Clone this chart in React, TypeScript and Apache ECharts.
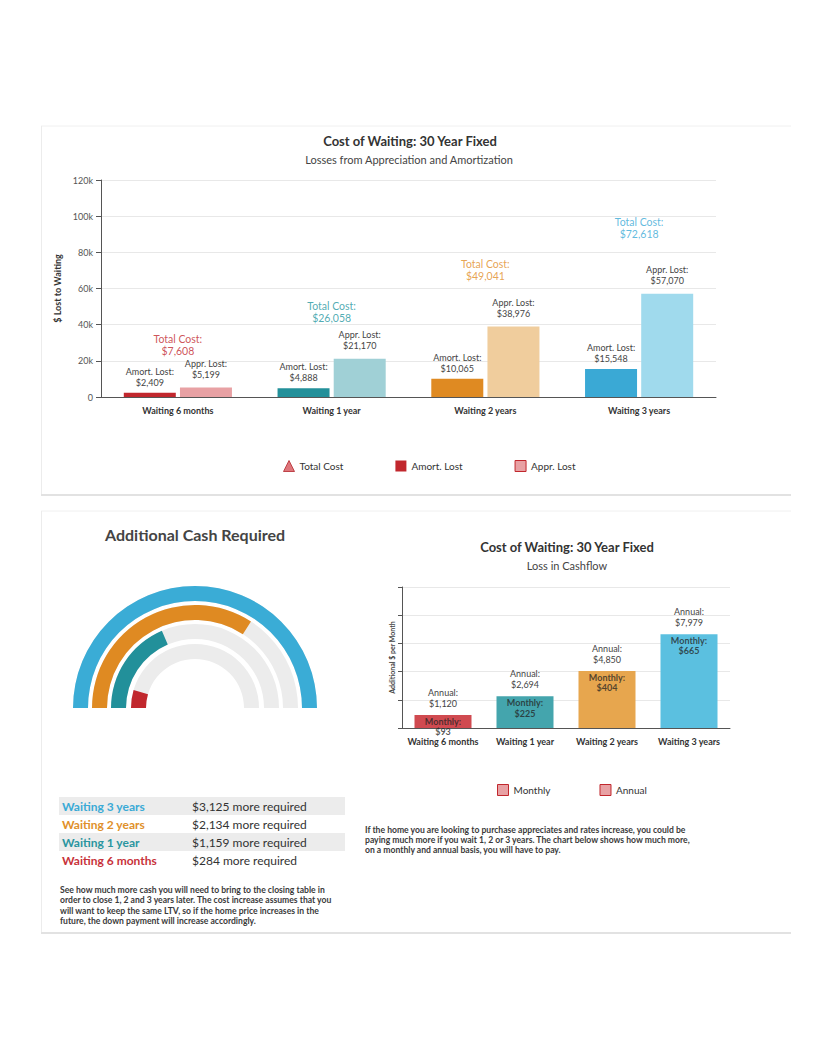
import React, { useEffect, useRef } from "react";
import * as echarts from "echarts";

// ---------- data ----------
const categories = ["Waiting 6 months", "Waiting 1 year", "Waiting 2 years", "Waiting 3 years"];
const amortLost = [2409, 4888, 10065, 15548];
const apprLost = [5199, 21170, 38976, 57070];
const totalCost = [7608, 26058, 49041, 72618];
const topAxisMax = 120000;
const topAxisStep = 20000;

const monthlyLoss = [93, 225, 404, 665];
const annualLoss = [1120, 2694, 4850, 7979];
const bottomAxisMax = 1000;
const bottomAxisStep = 200;

const cashLabels = ["Waiting 3 years", "Waiting 2 years", "Waiting 1 year", "Waiting 6 months"];
const cashRequired = [3125, 2134, 1159, 284];

const cashText =
  "See how much more cash you will need to bring to the closing table in\norder to close 1, 2 and 3 years later. The cost increase assumes that you\nwill want to keep the same LTV, so if the home price increases in the\nfuture, the down payment will increase accordingly.";
const flowText =
  "If the home you are looking to purchase appreciates and rates increase, you could be\npaying much more if you wait 1, 2 or 3 years. The chart below shows how much more,\non a monthly and annual basis, you will have to pay.";

// ---------- styles ----------
const FONT = "Lato, 'Noto Sans', sans-serif";
const darkColors = ["#c1272d", "#23909a", "#df8a22", "#3aa9d5"];
const lightColors = ["#e8a1a4", "#a0d0d6", "#f0cd9d", "#a0daed"];
const totalColors = ["#c1272d", "#2596a0", "#df8c26", "#38a9d6"];
const monthlyColors = ["#d04a50", "#44a5ad", "#e7a64e", "#5bc0e0"];
const cashColors = ["#3aacd6", "#df8a22", "#22909a", "#c1272d"];
const tableColors = ["#3aaad6", "#e0902a", "#2a959f", "#c8323a"];
const gaugeRadii = [122, 103, 84, 64];

const fmt = (v: number) => "$" + v.toLocaleString("en-US");

function buildOption() {
  const maxCash = Math.max(...cashRequired);

  const gauges = cashRequired.map((v, i) => ({
    type: "gauge",
    name: cashLabels[i],
    center: [195, 708],
    radius: gaugeRadii[i],
    startAngle: 180,
    endAngle: 0,
    min: 0,
    max: maxCash,
    silent: true,
    axisLine: { lineStyle: { width: 15, color: [[1, "#ececec"]] } },
    progress: { show: true, width: 15, itemStyle: { color: cashColors[i] } },
    pointer: { show: false },
    anchor: { show: false },
    axisTick: { show: false },
    splitLine: { show: false },
    axisLabel: { show: false },
    detail: { show: false },
    title: { show: false },
    data: [{ value: v, name: cashLabels[i] }],
  }));

  const tableGraphics: any[] = [];
  cashLabels.forEach((lab, i) => {
    const cy = 806 + i * 18;
    if (i % 2 === 0) {
      tableGraphics.push({
        type: "rect",
        shape: { x: 59, y: cy - 9, width: 286, height: 18 },
        style: { fill: "#ececec" },
        z: 1,
      });
    }
    tableGraphics.push({
      type: "text",
      x: 62,
      y: cy,
      z: 2,
      style: {
        text: lab,
        fill: tableColors[i],
        font: `bold 12px ${FONT}`,
        verticalAlign: "middle",
      },
    });
    tableGraphics.push({
      type: "text",
      x: 192,
      y: cy,
      z: 2,
      style: {
        text: `${fmt(cashRequired[i])} more required`,
        fill: "#333",
        font: `12px ${FONT}`,
        verticalAlign: "middle",
      },
    });
  });

  const cardLine = (x1: number, y1: number, x2: number, y2: number, color: string, w = 1) => ({
    type: "line",
    shape: { x1, y1, x2, y2 },
    style: { stroke: color, lineWidth: w },
    z: 0,
  });

  return {
    animation: false,
    backgroundColor: "#fff",
    textStyle: { fontFamily: FONT },
    graphic: [
      cardLine(41, 126, 791, 126, "#f0f0f0"),
      cardLine(41.5, 126, 41.5, 495, "#ececec"),
      cardLine(41, 495, 791, 495, "#e2e2e2", 2),
      cardLine(41, 511, 791, 511, "#f0f0f0"),
      cardLine(41.5, 511, 41.5, 933, "#ececec"),
      cardLine(41, 933, 791, 933, "#e2e2e2", 2),
      {
        type: "text",
        x: 410,
        y: 141,
        style: { text: "Cost of Waiting: 30 Year Fixed", fill: "#333", font: `bold 13px ${FONT}`, align: "center", verticalAlign: "middle" },
      },
      {
        type: "text",
        x: 409,
        y: 159,
        style: { text: "Losses from Appreciation and Amortization", fill: "#444", font: `11px ${FONT}`, align: "center", verticalAlign: "middle" },
      },
      {
        type: "text",
        x: 567,
        y: 547,
        style: { text: "Cost of Waiting: 30 Year Fixed", fill: "#333", font: `bold 13px ${FONT}`, align: "center", verticalAlign: "middle" },
      },
      {
        type: "text",
        x: 567,
        y: 565,
        style: { text: "Loss in Cashflow", fill: "#444", font: `11px ${FONT}`, align: "center", verticalAlign: "middle" },
      },
      {
        type: "text",
        x: 105,
        y: 534,
        style: { text: "Additional Cash Required", fill: "#444", font: `bold 16px ${FONT}`, verticalAlign: "middle" },
      },
      ...tableGraphics,
      {
        type: "text",
        x: 60,
        y: 885,
        style: { text: cashText, fill: "#3a3a3a", font: `bold 8.6px ${FONT}`, lineHeight: 10.2, verticalAlign: "top" },
      },
      {
        type: "text",
        x: 365,
        y: 825,
        style: { text: flowText, fill: "#3a3a3a", font: `bold 8.6px ${FONT}`, lineHeight: 9.8, verticalAlign: "top" },
      },
    ],
    legend: [
      {
        left: 278,
        top: 455,
        itemWidth: 11,
        itemHeight: 11,
        itemGap: 52,
        textStyle: { fontSize: 10, color: "#333", fontFamily: FONT },
        data: [
          { name: "Total Cost", icon: "triangle", itemStyle: { color: "#d6545a", borderColor: "#b3262c", borderWidth: 1 } },
          { name: "Amort. Lost", icon: "rect", itemStyle: { color: "#c1272d" } },
          { name: "Appr. Lost", icon: "rect", itemStyle: { color: "#e8a1a4", borderColor: "#c1272d", borderWidth: 1 } },
        ],
      },
      {
        left: 492,
        top: 779,
        itemWidth: 11,
        itemHeight: 11,
        itemGap: 49,
        textStyle: { fontSize: 10, color: "#333", fontFamily: FONT },
        data: [
          { name: "Monthly", icon: "rect", itemStyle: { color: "#e8a1a4", borderColor: "#c1272d", borderWidth: 1 } },
          { name: "Annual", icon: "rect", itemStyle: { color: "#e8a1a4", borderColor: "#c1272d", borderWidth: 1 } },
        ],
      },
    ],
    grid: [
      { left: 101, right: 100, top: 180, bottom: 659 },
      { left: 402, right: 86, top: 587, bottom: 328 },
    ],
    xAxis: [0, 1].map((g) => ({
      gridIndex: g,
      type: "category",
      data: categories,
      axisLine: { lineStyle: { color: "#555" } },
      axisTick: { alignWithLabel: true, length: 4, lineStyle: { color: "#555" } },
      axisLabel: { fontSize: 9, fontWeight: "bold", color: "#333", margin: 9, fontFamily: FONT, interval: 0 },
    })),
    yAxis: [
      {
        gridIndex: 0,
        type: "value",
        min: 0,
        max: topAxisMax,
        interval: topAxisStep,
        axisLine: { show: true, lineStyle: { color: "#555" } },
        axisTick: { show: true, length: 5, lineStyle: { color: "#555" } },
        axisLabel: {
          fontSize: 9,
          color: "#555",
          margin: 8,
          fontFamily: FONT,
          formatter: (v: number) => (v === 0 ? "0" : v / 1000 + "k"),
        },
        splitLine: { lineStyle: { color: "#e8e8e8" } },
        name: "$ Lost to Waiting",
        nameLocation: "middle",
        nameGap: 33,
        nameRotate: 90,
        nameTextStyle: { fontWeight: "bold", fontSize: 9, color: "#333", fontFamily: FONT },
      },
      {
        gridIndex: 1,
        type: "value",
        min: 0,
        max: bottomAxisMax,
        interval: bottomAxisStep,
        axisLine: { show: true, lineStyle: { color: "#555" } },
        axisTick: { show: true, length: 4, lineStyle: { color: "#555" } },
        axisLabel: { show: false },
        splitLine: { lineStyle: { color: "#e8e8e8" } },
        name: "Additional $ per Month",
        nameLocation: "middle",
        nameGap: 7,
        nameRotate: 90,
        nameTextStyle: { fontWeight: "bold", fontSize: 7, color: "#444", fontFamily: FONT },
      },
    ],
    series: [
      {
        type: "bar",
        name: "Amort. Lost",
        xAxisIndex: 0,
        yAxisIndex: 0,
        barWidth: 52,
        barGap: "8%",
        data: amortLost.map((v, i) => ({ value: v, itemStyle: { color: darkColors[i] } })),
        label: {
          show: true,
          position: "top",
          distance: 5,
          fontSize: 9,
          lineHeight: 11,
          color: "#444",
          fontFamily: FONT,
          formatter: (p: any) => `Amort. Lost:\n${fmt(p.value)}`,
        },
      },
      {
        type: "bar",
        name: "Appr. Lost",
        xAxisIndex: 0,
        yAxisIndex: 0,
        barWidth: 52,
        barGap: "8%",
        data: apprLost.map((v, i) => ({ value: v, itemStyle: { color: lightColors[i] } })),
        label: {
          show: true,
          position: "top",
          distance: 8,
          fontSize: 9,
          lineHeight: 11,
          color: "#444",
          fontFamily: FONT,
          formatter: (p: any) => `Appr. Lost:\n${fmt(p.value)}`,
        },
      },
      {
        type: "scatter",
        name: "Total Cost",
        xAxisIndex: 0,
        yAxisIndex: 0,
        symbol: "triangle",
        symbolSize: 0,
        data: totalCost.map((v, i) => ({
          value: v,
          label: { color: totalColors[i] },
        })),
        label: {
          show: true,
          position: "top",
          distance: 26,
          fontSize: 10.5,
          lineHeight: 12,
          fontFamily: FONT,
          formatter: (p: any) => `Total Cost:\n${fmt(p.value)}`,
        },
      },
      {
        type: "bar",
        name: "Monthly",
        xAxisIndex: 1,
        yAxisIndex: 1,
        barWidth: 57,
        data: monthlyLoss.map((v, i) => ({ value: v, itemStyle: { color: monthlyColors[i] } })),
        label: {
          show: true,
          position: "insideTop",
          distance: 1,
          fontSize: 9,
          fontWeight: "bold",
          lineHeight: 10.5,
          color: "rgba(35,35,35,0.75)",
          fontFamily: FONT,
          formatter: (p: any) => `Monthly:\n${fmt(p.value)}`,
        },
      },
      {
        type: "bar",
        name: "Annual",
        xAxisIndex: 1,
        yAxisIndex: 1,
        barWidth: 57,
        barGap: "-100%",
        silent: true,
        itemStyle: { color: "rgba(0,0,0,0)" },
        data: monthlyLoss,
        label: {
          show: true,
          position: "top",
          distance: 6,
          fontSize: 9,
          lineHeight: 11,
          color: "#444",
          fontFamily: FONT,
          formatter: (p: any) => `Annual:\n${fmt(annualLoss[p.dataIndex])}`,
        },
      },
      ...gauges,
    ],
  };
}

export default function App() {
  const ref = useRef<HTMLDivElement>(null);
  useEffect(() => {
    if (!ref.current) return;
    const chart = echarts.init(ref.current, undefined, { renderer: "svg" });
    chart.setOption(buildOption() as any);
    return () => chart.dispose();
  }, []);
  return (
    <div
      ref={ref}
      style={{ position: "absolute", left: 0, top: 0, width: 816, height: 1056, background: "#fff" }}
    />
  );
}
